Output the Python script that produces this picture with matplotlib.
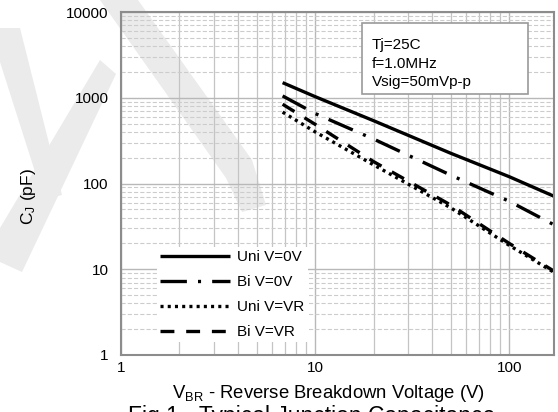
import matplotlib
matplotlib.use('Agg')
import matplotlib.pyplot as plt
from matplotlib.patches import Polygon, Rectangle

plt.rcParams['font.family'] = ['Liberation Sans', 'DejaVu Sans']
plt.rcParams['lines.scale_dashes'] = False
plt.rcParams['mathtext.default'] = 'regular'

# ---- data ----
vbr = [6.8, 10, 20, 50, 100, 170]
uni_0v = [1500, 1030, 540, 225, 120, 71]
bi_0v = [1050, 655, 330, 125, 62, 33]
uni_vr = [680, 400, 165, 52, 19, 9.2]
bi_vr = [840, 490, 180, 56, 20, 9.5]
series_labels = ['Uni V=0V', 'Bi V=0V', 'Uni V=VR', 'Bi V=VR']
x_ticks = [1, 10, 100]
x_tick_labels = ['1', '10', '100']
y_ticks = [1, 10, 100, 1000, 10000]
y_tick_labels = ['1', '10', '100', '1000', '10000']
conditions = ['Tj=25C', 'f=1.0MHz', 'Vsig=50mVp-p']
x_label = r'V$_{BR}$ - Reverse Breakdown Voltage (V)'
y_label = r'C$_{J}$ (pF)'
caption = 'Fig 1 - Typical Junction Capacitance'

W, H = 558, 412
fig = plt.figure(figsize=(W / 100, H / 100), dpi=100)
fig.patch.set_facecolor('white')


def fx(px):
    return px / W


def fy(py):
    return 1 - py / H


def P(pts):
    return [(fx(a), fy(b)) for a, b in pts]


# ---- faint watermark (decoration) ----
wm = '#ebebeb'
for pts in [
    [(0, 28), (20, 28), (62, 195), (44, 200), (0, 62)],
    [(100, 0), (138, 0), (252, 160), (266, 205), (242, 212), (226, 178)],
    [(0, 262), (0, 228), (100, 60), (116, 74), (22, 272)],
]:
    fig.patches.append(Polygon(P(pts), closed=True, transform=fig.transFigure,
                               facecolor=wm, edgecolor='none', zorder=-5))

L, R, T, B = 121, 554, 12, 355
ax = fig.add_axes([fx(L), fy(B), (R - L) / W, (B - T) / H])
ax.set_facecolor('none')
ax.set_xscale('log')
ax.set_yscale('log')
ax.set_xlim(1, 170)
ax.set_ylim(1, 10000)

ax.xaxis.grid(True, which='major', color='#b8b8b8', lw=1.0, ls='-')
ax.xaxis.grid(True, which='minor', color='#c4c4c4', lw=0.9, ls='-')
ax.yaxis.grid(True, which='major', color='#b8b8b8', lw=1.0, ls='-')
ax.yaxis.grid(True, which='minor', color='#cccccc', lw=0.8, ls=(0, (3, 1.5)))
ax.set_axisbelow(True)

ax.set_xticks(x_ticks, labels=x_tick_labels)
ax.set_yticks(y_ticks, labels=y_tick_labels)
ax.xaxis.set_minor_formatter(plt.NullFormatter())
ax.yaxis.set_minor_formatter(plt.NullFormatter())
ax.tick_params(which='both', length=0, labelsize=11, colors='black')
ax.tick_params(axis='x', pad=4)
ax.tick_params(axis='y', pad=9)
for s in ax.spines.values():
    s.set_color('#8c8c8c')
    s.set_linewidth(1.5)

lw = 2.4
ax.plot(vbr, uni_0v, color='black', lw=lw, ls='-', label=series_labels[0],
        solid_capstyle='butt')
ax.plot(vbr, bi_0v, color='black', lw=lw, ls=(0, (19, 8, 2.2, 8)),
        label=series_labels[1])
ax.plot(vbr, uni_vr, color='black', lw=lw, ls=(0, (2.2, 3.0)),
        label=series_labels[2])
ax.plot(vbr, bi_vr, color='black', lw=lw, ls=(0, (10, 8.5)),
        label=series_labels[3])

leg = ax.legend(loc='upper left', bbox_to_anchor=(fx(157), fy(247)),
                bbox_transform=fig.transFigure, borderaxespad=0,
                fontsize=11, handlelength=4.6, handletextpad=0.45,
                labelspacing=0.72, borderpad=0.2, frameon=True,
                fancybox=False, framealpha=1)
leg.get_frame().set_edgecolor('white')
leg.get_frame().set_linewidth(0)

# condition box
box = Rectangle((fx(362), fy(94)), fx(528) - fx(362), fy(23) - fy(94),
                transform=fig.transFigure, facecolor='white',
                edgecolor='#9a9a9a', lw=1.2, zorder=6, clip_on=False)
ax.add_patch(box)
for i, c in enumerate(conditions):
    ax.text(fx(372), fy(45 + 18.7 * i), c, transform=fig.transFigure,
            ha='left', va='center', fontsize=11, zorder=7)
ax.set_xlim(1, 170)
ax.set_ylim(1, 10000)

fig.text(fx(328), fy(393), x_label, ha='center', va='center', fontsize=13.3)
fig.text(fx(28), fy(197), y_label, ha='center', va='center', fontsize=12.5,
         rotation=90)
fig.text(fx(128), fy(405), caption, ha='left', va='top', fontsize=16.5)

fig.savefig('out.png', dpi=100)
